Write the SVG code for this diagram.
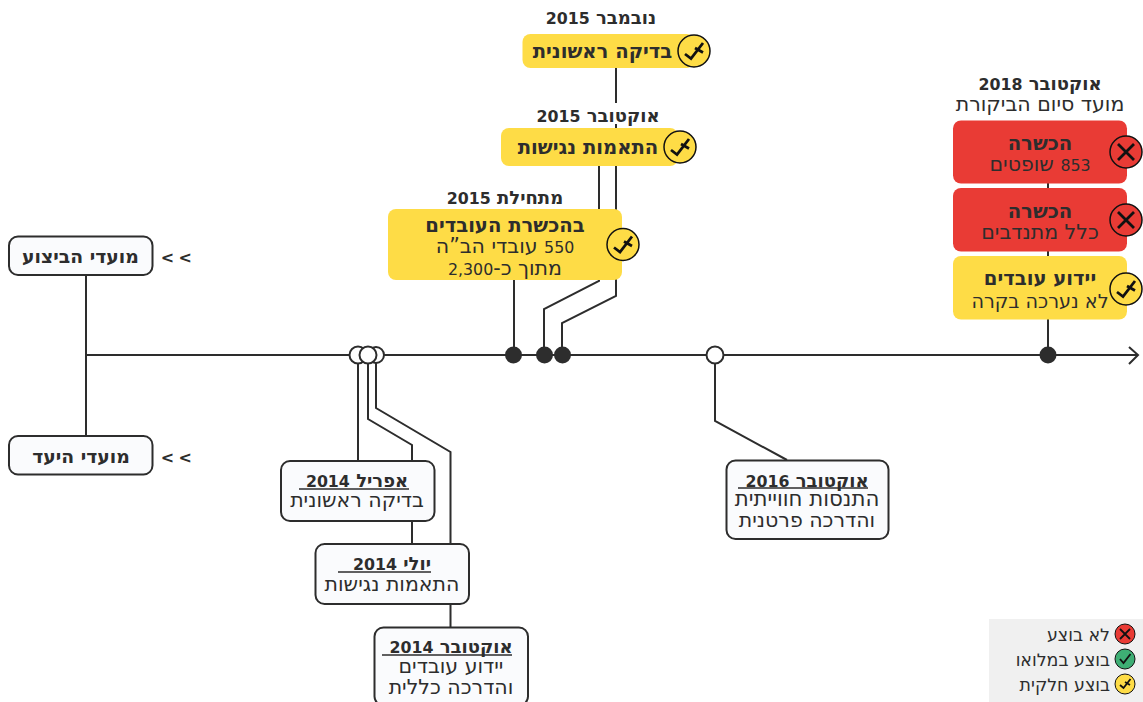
<svg xmlns="http://www.w3.org/2000/svg" xmlns:xlink="http://www.w3.org/1999/xlink" width="1143" height="702" viewBox="0 0 1143 702">
<style>
text{font-family:"DejaVu Sans","Noto Sans",sans-serif;direction:rtl;text-anchor:middle;fill:#2d2d2d;font-size:20.500px}
.b{font-weight:700;font-size:19.600px}
.h{font-weight:700;font-size:18px}
.d{font-size:15.800px}
.g{font-size:17.400px;text-anchor:start}
.ar{direction:ltr;text-anchor:start;font-weight:700;font-size:16px}
.l{fill:none;stroke:#2d2d2d;stroke-width:2}
.u{fill:none;stroke:#2d2d2d;stroke-width:1.500}
.box{fill:#fafbfd;stroke:#2d2d2d;stroke-width:2}
.y{fill:#fedc46}
.r{fill:#e93b35}
.open{fill:#fff;stroke:#2d2d2d;stroke-width:2}
.full{fill:#2d2d2d}
.ic{fill:none;stroke:#111;stroke-width:2.800}
.ring{stroke:#111;stroke-width:1.500}
</style>
<defs>
<g id="part"><circle class="ring" r="16" fill="#fedc46"/><path class="ic" d="M-9 3L-3 7.500L9 -8M1 -3L9 1.500"/></g>
<g id="no"><circle class="ring" r="16" fill="#e93b35"/><path class="ic" d="M-8 -8L8 8M8 -8L-8 8"/></g>
</defs>
<g id="connectors">
<path class="l" d="M86 275V436M86 355H1138M1129 347L1138 355L1129 364"/>
<path class="l" d="M358 355V461M368 355V419L412 445V544M376 355V408L450.500 452V627"/>
<path class="l" d="M715 355V421L787 460"/>
<path class="l" d="M514 280V355M544 355V309L599 281V166M562 355V323L616 296V68M1048 183V355"/>
</g>
<g id="timeline-dots">
<circle class="open" cx="358" cy="355" r="8.500"/><circle class="open" cx="376" cy="355" r="8"/><circle class="open" cx="368" cy="355" r="8.500"/>
<circle class="open" cx="715" cy="355" r="8.500"/>
<circle class="full" cx="513.500" cy="355" r="8.500"/><circle class="full" cx="544.500" cy="355" r="8.500"/><circle class="full" cx="562.500" cy="355" r="8.500"/><circle class="full" cx="1048" cy="355" r="8.500"/>
</g>
<g id="node-execution"><rect class="box" x="9" y="236.500" width="143.500" height="38.500" rx="9"/><text class="b" style="font-size:18.800px" x="80.500" y="263">מועדי הביצוע</text><text class="ar" x="160.700 178.400" y="263">&lt;&lt;</text></g>
<g id="node-target"><rect class="box" x="9" y="436" width="143.500" height="38.500" rx="9"/><text class="b" style="font-size:18.800px" x="81" y="463">מועדי היעד</text><text class="ar" x="160.700 178.400" y="463">&lt;&lt;</text></g>
<g id="node-apr2014"><rect class="box" x="281" y="461" width="153.500" height="60" rx="9"/><text class="h" x="357" y="487">אפריל <tspan class="d">2014</tspan></text><line class="u" x1="299" y1="489" x2="409" y2="489"/><text x="357" y="507">בדיקה ראשונית</text></g>
<g id="node-jul2014"><rect class="box" x="315.500" y="544" width="153.500" height="60" rx="9"/><text class="h" x="392" y="570">יולי <tspan class="d">2014</tspan></text><line class="u" x1="338" y1="572" x2="431" y2="572"/><text x="392" y="591">התאמות נגישות</text></g>
<g id="node-oct2014"><rect class="box" x="374.500" y="627.500" width="153.500" height="78" rx="9"/><text class="h" x="451" y="653">אוקטובר <tspan class="d">2014</tspan></text><line class="u" x1="382" y1="655" x2="512" y2="655"/><text x="451" y="673">יידוע עובדים</text><text x="451" y="694">והדרכה כללית</text></g>
<g id="node-oct2016"><rect class="box" x="726.500" y="460.500" width="162" height="78.500" rx="9"/><text class="h" x="807" y="487">אוקטובר <tspan class="d">2016</tspan></text><line class="u" x1="738" y1="488" x2="868" y2="488"/><text style="font-size:21.300px" x="807" y="506">התנסות חווייתית</text><text x="807" y="527">והדרכה פרטנית</text></g>
<g id="node-nov2015"><rect class="y" x="522.500" y="34" width="172" height="34" rx="8"/><text class="h" x="601" y="24">נובמבר <tspan class="d">2015</tspan></text><text class="b" x="602.500" y="58">בדיקה ראשונית</text><use xlink:href="#part" href="#part" x="694" y="51"/></g>
<g id="node-oct2015"><rect fill="#fff" x="530" y="103" width="140" height="21"/><rect class="y" x="501" y="128" width="177" height="38" rx="8"/><text class="h" x="598" y="122">אוקטובר <tspan class="d">2015</tspan></text><text class="b" x="588" y="154">התאמות נגישות</text><use xlink:href="#part" href="#part" x="680" y="147"/></g>
<g id="node-early2015"><rect class="y" x="388" y="209" width="234" height="71" rx="8"/><text class="h" x="505" y="204">מתחילת <tspan class="d">2015</tspan></text><text class="b" x="505" y="232">בהכשרת העובדים</text><text x="505" y="253"><tspan class="d">550</tspan> עובדי הב”ה</text><text x="505" y="275">מתוך כ-<tspan class="d">2,300</tspan></text><use xlink:href="#part" href="#part" x="623" y="244.500"/></g>
<g id="node-oct2018"><text class="h" x="1040" y="90">אוקטובר <tspan class="d">2018</tspan></text><text x="1040" y="111">מועד סיום הביקורת</text>
<rect class="r" x="953" y="120.500" width="174" height="63" rx="8"/><text class="b" x="1040" y="150">הכשרה</text><text x="1040" y="171"><tspan class="d">853</tspan> שופטים</text><use xlink:href="#no" href="#no" x="1126" y="152"/>
<rect class="r" x="953" y="188" width="174" height="63.500" rx="8"/><text class="b" x="1040" y="218">הכשרה</text><text x="1040" y="239">כלל מתנדבים</text><use xlink:href="#no" href="#no" x="1126" y="220"/>
<rect class="y" x="953" y="256" width="174" height="63.500" rx="8"/><text class="b" x="1040" y="285">יידוע עובדים</text><text style="font-size:19.200px" x="1040" y="308">לא נערכה בקרה</text><use xlink:href="#part" href="#part" x="1126" y="289"/></g>
<g id="legend"><rect x="989" y="619" width="154" height="83" fill="#f0f0f0"/>
<text class="g" x="1110" y="641">לא בוצע</text><text class="g" x="1110" y="666">בוצע במלואו</text><text class="g" x="1110" y="691">בוצע חלקית</text>
<circle cx="1125" cy="634" r="10" fill="#e93b35" stroke="#111" stroke-width="1"/><path d="M1120 629L1130 639M1130 629L1120 639" fill="none" stroke="#111" stroke-width="1.800"/>
<circle cx="1125" cy="659" r="10" fill="#3eae74" stroke="#111" stroke-width="1"/><path d="M1120 659L1123.500 663L1130.500 654" fill="none" stroke="#111" stroke-width="1.800"/>
<circle cx="1125" cy="684" r="10" fill="#fedc46" stroke="#111" stroke-width="1"/><path d="M1120 685L1123.500 688L1130.500 679M1125 682L1130 685" fill="none" stroke="#111" stroke-width="1.800"/></g>
</svg>
